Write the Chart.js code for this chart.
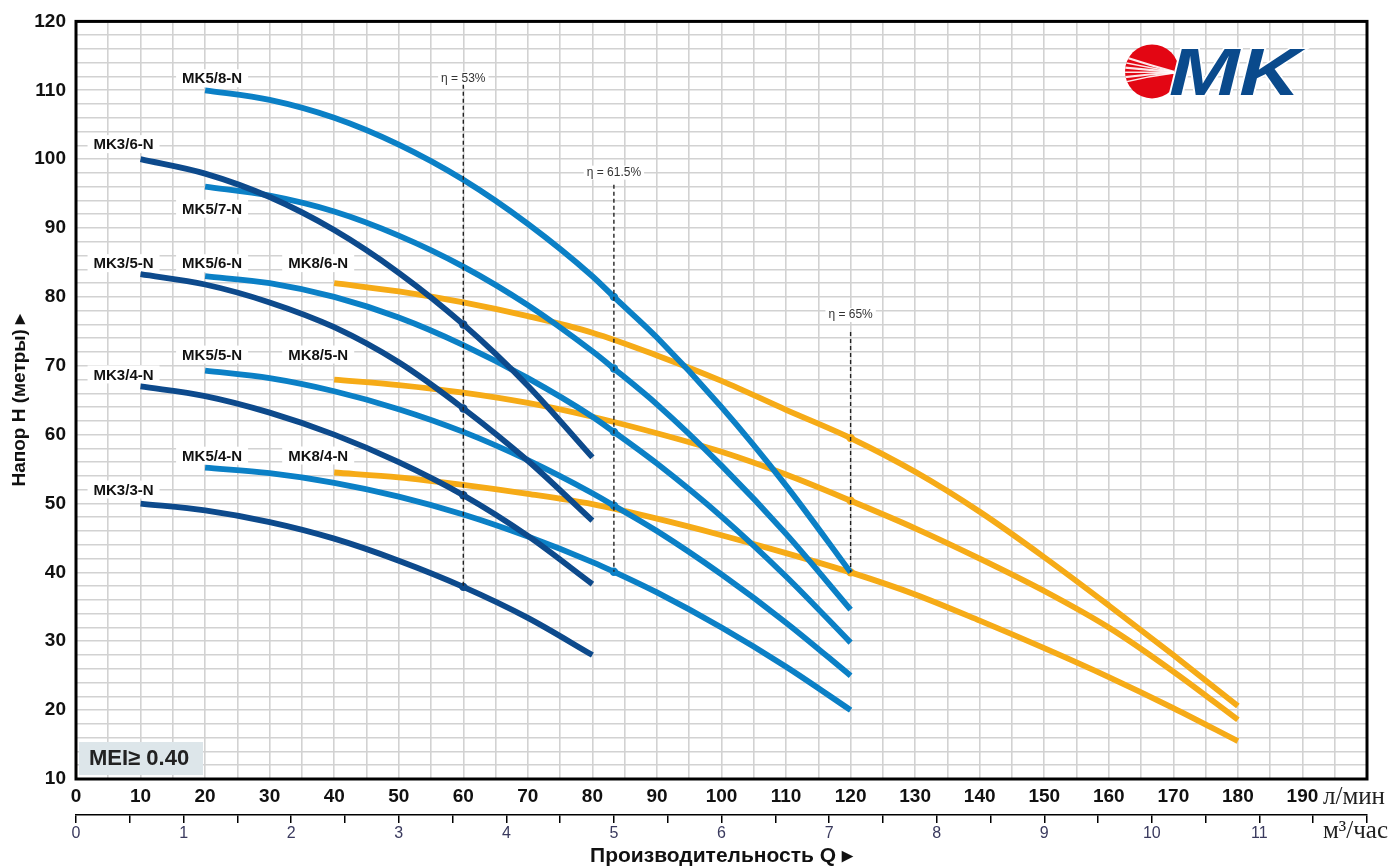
<!DOCTYPE html>
<html><head><meta charset="utf-8">
<script src="https://cdn.jsdelivr.net/npm/chart.js@4.4.1/dist/chart.umd.min.js"></script>
<style>html,body{margin:0;padding:0;background:#fff;}#wrap{width:1393px;height:867px;}</style>
</head><body><div id="wrap"><canvas id="c" width="1393" height="867"></canvas></div>
<script>
// ---------- DATA ----------
const qMK3 = [10, 20, 30, 40, 50, 60, 70, 80];
const hMK3_6 = [100, 97.9, 94.5, 89.7, 83.5, 76, 67.1, 56.7];
const hMK3_5 = [83.3, 81.8, 79.2, 75.6, 70.5, 63.8, 56.2, 47.5];
const hMK3_4 = [67, 65.6, 63.2, 60, 56, 51.2, 45.3, 38.3];
const hMK3_3 = [50, 49, 47.3, 44.9, 41.7, 37.9, 33.4, 28];

const qMK5 = [20, 30, 40, 50, 60, 70, 80, 83.33, 90, 100, 110, 120];
const hMK5_8 = [110, 108.6, 106, 102.1, 97, 90.6, 83, 80, 74.1, 64, 52.6, 40];
const hMK5_7 = [96, 94.7, 92.4, 88.9, 84.4, 78.8, 72.1, 69.6, 64.4, 55.5, 45.6, 34.6];
const hMK5_6 = [83, 82, 80, 77, 73, 68.2, 62.6, 60.4, 55.8, 48.1, 39.4, 29.8];
const hMK5_5 = [69.3, 68.2, 66.3, 63.7, 60.4, 56.3, 51.5, 49.7, 46, 39.7, 32.7, 25];
const hMK5_4 = [55.2, 54.4, 53, 51, 48.4, 45.2, 41.5, 40.1, 37.1, 32, 26.3, 20];

const qMK8 = [40, 50, 60, 70, 80, 90, 100, 110, 120, 130, 140, 150, 160, 170, 180];
const hMK8_6 = [82, 80.8, 79.2, 77.2, 74.8, 71.5, 67.8, 63.6, 59.5, 54.6, 48.8, 42.2, 35.2, 28, 20.6];
const hMK8_5 = [68, 67.2, 66.1, 64.6, 62.6, 60.2, 57.5, 54.2, 50.4, 46.4, 42, 37.3, 32, 25.6, 18.6];
const hMK8_4 = [54.5, 53.8, 52.7, 51.4, 49.9, 47.8, 45.4, 42.8, 40, 36.8, 33, 29, 24.8, 20.3, 15.5];

const etaQ = [60, 83.33, 120];
const etaTop = [110.8, 96.3, 74.9];
const etaBottom = [37.9, 40.1, 40];
const etaLabels = ['η = 53%', 'η = 61.5%', 'η = 65%'];

const headTicks = [10, 20, 30, 40, 50, 60, 70, 80, 90, 100, 110, 120];
const flowTicksLmin = [0, 10, 20, 30, 40, 50, 60, 70, 80, 90, 100, 110, 120, 130, 140, 150, 160, 170, 180, 190];
const flowTicksM3h = [0, 1, 2, 3, 4, 5, 6, 7, 8, 9, 10, 11];

const series = [
  { name: 'MK3/6-N', q: qMK3, h: hMK3_6, fam: 0 },
  { name: 'MK3/5-N', q: qMK3, h: hMK3_5, fam: 0 },
  { name: 'MK3/4-N', q: qMK3, h: hMK3_4, fam: 0 },
  { name: 'MK3/3-N', q: qMK3, h: hMK3_3, fam: 0 },
  { name: 'MK5/8-N', q: qMK5, h: hMK5_8, fam: 1 },
  { name: 'MK5/7-N', q: qMK5, h: hMK5_7, fam: 1 },
  { name: 'MK5/6-N', q: qMK5, h: hMK5_6, fam: 1 },
  { name: 'MK5/5-N', q: qMK5, h: hMK5_5, fam: 1 },
  { name: 'MK5/4-N', q: qMK5, h: hMK5_4, fam: 1 },
  { name: 'MK8/6-N', q: qMK8, h: hMK8_6, fam: 2 },
  { name: 'MK8/5-N', q: qMK8, h: hMK8_5, fam: 2 },
  { name: 'MK8/4-N', q: qMK8, h: hMK8_4, fam: 2 }
];

// ---------- STYLE ----------
const famColors = ['#0d4a8c', '#0b80c6', '#f6ab17'];
const labelOffset = {
  'MK3/6-N': [-17, -15], 'MK3/5-N': [-17, -11], 'MK3/4-N': [-17, -12], 'MK3/3-N': [-17, -14],
  'MK5/8-N': [7, -12], 'MK5/7-N': [7, 22], 'MK5/6-N': [7, -13], 'MK5/5-N': [7, -16], 'MK5/4-N': [7, -12],
  'MK8/6-N': [-16, -20], 'MK8/5-N': [-16, -25], 'MK8/4-N': [-16, -17]
};
const etaLabelGap = [6, 12, 17];
const SANS = '"Liberation Sans", Arial, Helvetica, sans-serif';
const SERIF = '"Liberation Serif", "Times New Roman", serif';

const datasets = [];
series.forEach(s => {
  const col = famColors[s.fam];
  const eq = etaQ[s.fam];
  datasets.push({
    label: s.name,
    data: s.q.map((q, i) => ({ x: q, y: s.h[i] })),
    borderColor: col,
    backgroundColor: col,
    borderWidth: 5.8,
    cubicInterpolationMode: 'monotone',
    pointRadius: c => (c.raw && c.raw.x === eq ? 4.2 : 0),
    pointHoverRadius: 0,
    pointBorderWidth: 0,
    pointBackgroundColor: col,
    fill: false,
    order: 1
  });
});
etaQ.forEach((q, i) => {
  datasets.push({
    label: etaLabels[i],
    data: [{ x: q, y: etaTop[i] }, { x: q, y: etaBottom[i] }],
    borderColor: '#222',
    borderWidth: 1.4,
    borderDash: [4, 3],
    pointRadius: 0,
    fill: false,
    order: 0
  });
});

const decor = {
  id: 'decor',
  beforeDatasetsDraw(chart) {
    const { ctx, chartArea: a, scales: { x, y } } = chart;
    ctx.save();
    // MEI box
    ctx.fillStyle = '#dde6ea';
    ctx.fillRect(a.left + 3, a.bottom - 37, 124, 33);
    ctx.font = 'bold 22px ' + SANS;
    ctx.fillStyle = '#222';
    ctx.textBaseline = 'middle';
    ctx.textAlign = 'left';
    ctx.fillText('MEI≥ 0.40', a.left + 13, a.bottom - 20);
    // series labels
    ctx.font = 'bold 15px ' + SANS;
    ctx.textAlign = 'center';
    series.forEach(s => {
      const off = labelOffset[s.name];
      const px = x.getPixelForValue(s.q[0]) + off[0];
      const py = y.getPixelForValue(s.h[0]) + off[1];
      const w = ctx.measureText(s.name).width;
      ctx.fillStyle = '#fff';
      ctx.fillRect(px - w / 2 - 6, py - 9, w + 12, 18);
      ctx.fillStyle = '#111';
      ctx.fillText(s.name, px, py + 1);
    });
    // eta labels
    ctx.font = '12px ' + SANS;
    etaQ.forEach((q, i) => {
      const px = x.getPixelForValue(q);
      const py = y.getPixelForValue(etaTop[i]) - etaLabelGap[i];
      const w = ctx.measureText(etaLabels[i]).width;
      ctx.fillStyle = '#fff';
      ctx.fillRect(px - w / 2 - 3, py - 7, w + 6, 14);
      ctx.fillStyle = '#333';
      ctx.fillText(etaLabels[i], px, py);
    });
    // logo
    const cx = a.right - 215, cy = a.top + 50, r = 27;
    ctx.fillStyle = '#e30613';
    ctx.beginPath(); ctx.arc(cx, cy, r, 0, Math.PI * 2); ctx.fill();
    ctx.save();
    ctx.beginPath(); ctx.arc(cx, cy, r, 0, Math.PI * 2); ctx.clip();
    ctx.strokeStyle = 'rgba(255,255,255,0.9)';
    [-15, -9, -4, 1, 6, 11].forEach((d, k) => {
      ctx.lineWidth = k % 2 ? 1.5 : 2.1;
      ctx.beginPath();
      ctx.moveTo(cx - r - 2, cy + d);
      ctx.quadraticCurveTo(cx - 4, cy + d * 0.45, cx + 22, cy + 1 + d * 0.05);
      ctx.stroke();
    });
    ctx.restore();
    ctx.save();
    ctx.translate(cx + 17, cy + 24);
    ctx.scale(1.28, 1);
    ctx.font = 'italic bold 66px ' + SANS;
    ctx.textAlign = 'left';
    ctx.textBaseline = 'alphabetic';
    ctx.lineWidth = 3;
    ctx.strokeStyle = '#fff';
    ctx.strokeText('MK', 0, 0);
    ctx.fillStyle = '#0a4a8c';
    ctx.fillText('MK', 0, 0);
    ctx.restore();
    ctx.restore();
  },
  afterDraw(chart) {
    const { ctx, chartArea: a, scales: { x } } = chart;
    ctx.save();
    ctx.lineWidth = 3;
    ctx.strokeStyle = '#000';
    ctx.strokeRect(a.left, a.top, a.right - a.left, a.bottom - a.top);
    ctx.fillStyle = '#222';
    ctx.font = '25px ' + SERIF;
    ctx.textAlign = 'left';
    ctx.textBaseline = 'alphabetic';
    const lx = x.getPixelForValue(200) - 44;
    ctx.fillText('л/мин', lx, a.bottom + 25);
    ctx.fillText('м³/час', lx, a.bottom + 59);
    ctx.restore();
  }
};

new Chart(document.getElementById('c'), {
  type: 'line',
  data: { datasets },
  options: {
    responsive: false,
    animation: false,
    events: [],
    layout: { padding: { left: 0, right: 26, top: 19, bottom: 0 } },
    plugins: { legend: { display: false }, tooltip: { enabled: false } },
    scales: {
      x: {
        type: 'linear', position: 'bottom', min: 0, max: 200, weight: 0,
        afterFit: s => { s.height = 36; },
        ticks: {
          stepSize: 5, autoSkip: false, maxRotation: 0, padding: 6,
          callback: v => (flowTicksLmin.includes(v) ? String(v) : ''),
          font: { family: SANS, size: 19, weight: 'bold' }, color: '#111'
        },
        grid: { color: '#d2d2d2', lineWidth: 1.6, drawTicks: false },
        border: { display: false }
      },
      x2: {
        type: 'linear', position: 'bottom', min: 0, max: 12, weight: 1,
        afterFit: s => { s.height = 52; },
        ticks: {
          stepSize: 0.5, autoSkip: false, maxRotation: 0, padding: 1,
          callback: v => (flowTicksM3h.includes(v) ? String(v) : ''),
          font: { family: SANS, size: 16 }, color: '#3a3a5e'
        },
        grid: { drawOnChartArea: false, drawTicks: true, tickLength: 8, color: '#000', lineWidth: 1.5 },
        border: { display: true, color: '#000', width: 1.5 },
        title: {
          display: true, text: 'Производительность Q ▸',
          font: { family: SANS, size: 21, weight: 'bold', lineHeight: 1 },
          padding: { top: 0, bottom: 0 }, color: '#111'
        }
      },
      y: {
        type: 'linear', position: 'left', min: 10, max: 120,
        afterFit: s => { s.width = 76; },
        ticks: {
          stepSize: 2, autoSkip: false, padding: 10,
          callback: v => (headTicks.includes(v) ? String(v) : ''),
          font: { family: SANS, size: 19, weight: 'bold' }, color: '#111'
        },
        grid: { color: '#d2d2d2', lineWidth: 1.6, drawTicks: false },
        border: { display: false },
        title: {
          display: true, text: 'Напор H (метры) ▸',
          font: { family: SANS, size: 19, weight: 'bold', lineHeight: 1 },
          padding: { top: 10, bottom: 0 }, color: '#111'
        }
      }
    }
  },
  plugins: [decor]
});
</script>
</body></html>
